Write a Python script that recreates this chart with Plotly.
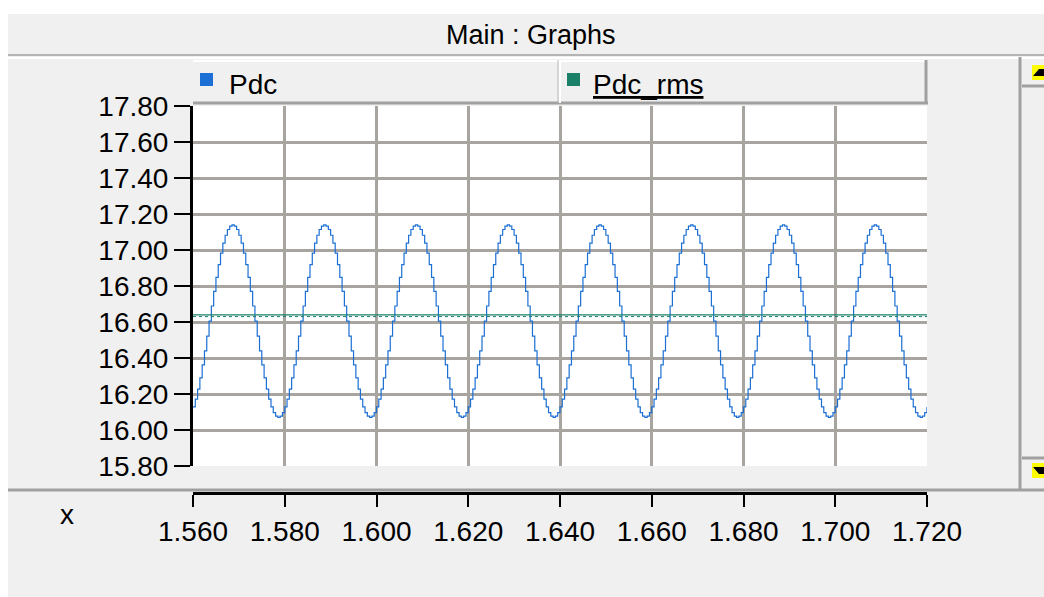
import plotly.graph_objects as go

W, H = 1044, 597

# ---- data ----
T_START = 1.560
T_STEP = 0.0005
# one 20 ms cycle of the Pdc staircase (40 samples), repeated for the 8 identical cycles shown
PDC_CYCLE = [16.128, 16.172, 16.227, 16.290, 16.362, 16.440, 16.521, 16.605, 16.689, 16.770,
             16.848, 16.919, 16.983, 17.038, 17.082, 17.114, 17.133, 17.140, 17.133, 17.114,
             17.082, 17.038, 16.983, 16.919, 16.848, 16.770, 16.689, 16.605, 16.521, 16.440,
             16.362, 16.290, 16.227, 16.172, 16.128, 16.096, 16.077, 16.070, 16.077, 16.096]
N_CYCLES = 8
RMS_X = [1.560, 1.720]
RMS_Y = [16.640, 16.640]
X_TICKS = [1.56, 1.58, 1.60, 1.62, 1.64, 1.66, 1.68, 1.70, 1.72]
X_TICK_LABELS = ["1.560", "1.580", "1.600", "1.620", "1.640", "1.660", "1.680", "1.700", "1.720"]
Y_TICKS = [15.8, 16.0, 16.2, 16.4, 16.6, 16.8, 17.0, 17.2, 17.4, 17.6, 17.8]
Y_TICK_LABELS = ["15.80", "16.00", "16.20", "16.40", "16.60", "16.80", "17.00", "17.20", "17.40", "17.60", "17.80"]
SERIES_NAMES = ["Pdc", "Pdc_rms"]
SERIES_COLORS = ["#1c6fd4", "#1a8068"]

pdc_y = PDC_CYCLE * N_CYCLES + [PDC_CYCLE[0]]
pdc_x = [round(T_START + i * T_STEP, 5) for i in range(len(pdc_y))]

FONT = "Liberation Sans, Arial, sans-serif"
FS = 28


def px(x):
    return x / W


def py(y):
    return 1 - y / H


PL, PR, PT, PB = 193, 927, 106, 466
AX_Y = 493

fig = go.Figure()
fig.add_trace(go.Scatter(x=pdc_x, y=pdc_y, mode="lines", line=dict(color=SERIES_COLORS[0], width=1.2, shape="hv"),
                         showlegend=False, hoverinfo="skip"))
fig.add_trace(go.Scatter(x=RMS_X, y=RMS_Y, mode="lines", line=dict(color=SERIES_COLORS[1], width=1.2),
                         showlegend=False, hoverinfo="skip"))
fig.add_trace(go.Scatter(x=RMS_X, y=[v - 0.01 for v in RMS_Y], mode="lines",
                         line=dict(color=SERIES_COLORS[1], width=1, dash="dot"),
                         showlegend=False, hoverinfo="skip"))
fig.add_trace(go.Scatter(x=RMS_X, y=RMS_Y, xaxis="x2", mode="lines", line=dict(width=0),
                         opacity=0, showlegend=False, hoverinfo="skip"))

grid = "#a8a4a0"
fig.update_layout(
    width=W, height=H, margin=dict(l=0, r=0, t=0, b=0, pad=0, autoexpand=False),
    paper_bgcolor="#f0f0f0", plot_bgcolor="white",
    font=dict(family=FONT, size=FS, color="black"),
    xaxis=dict(domain=[px(PL), px(PR)], range=[1.56, 1.72], tickvals=X_TICKS, showticklabels=False,
               showgrid=True, gridcolor=grid, gridwidth=3, zeroline=False, showline=False, ticks=""),
    yaxis=dict(domain=[py(PB), py(PT)], range=[15.8, 17.8], tickvals=Y_TICKS, ticktext=Y_TICK_LABELS,
               showgrid=True, gridcolor=grid, gridwidth=3, zeroline=False,
               showline=True, linecolor="black", linewidth=3, ticks="outside", ticklen=16,
               tickwidth=2, tickcolor="black", tickfont=dict(size=FS, family=FONT)),
    xaxis2=dict(domain=[px(PL), px(PR)], range=[1.56, 1.72], overlaying="x", anchor="free",
                position=py(AX_Y), side="bottom", tickvals=X_TICKS, ticktext=X_TICK_LABELS,
                showgrid=False, zeroline=False, showline=True, linecolor="black", linewidth=3,
                ticks="outside", ticklen=12, tickwidth=2, tickcolor="black",
                tickfont=dict(size=FS, family=FONT)),
)

shapes = []


def rect(x0, y0, x1, y1, fill, layer="below"):
    shapes.append(dict(type="rect", xref="paper", yref="paper", x0=px(x0), x1=px(x1), y0=py(y1), y1=py(y0),
                       fillcolor=fill, line=dict(width=0), layer=layer))


def line(x0, y0, x1, y1, color, w, layer="above"):
    shapes.append(dict(type="line", xref="paper", yref="paper", x0=px(x0), x1=px(x1), y0=py(y0), y1=py(y1),
                       line=dict(color=color, width=w), layer=layer))


# white window frame (top strip and left strip)
rect(0, 0, W, 14, "white")
rect(0, 0, 8, H, "white")
# title separator
line(8, 55, W, 55, "#b4b4b4", 2)
line(8, 58, W, 58, "white", 2)
# legend bar
rect(PL, 60, PR, 104, "#f0f0f0", layer="above")
line(PL, 61, PR, 61, "white", 2)
line(PL, 103, PR + 1, 103, "#a0a0a0", 3)
line(PR - 1, 60, PR - 1, 104, "#a0a0a0", 3)
line(558, 60, 558, 103, "#b8b8b8", 1)
line(560, 60, 560, 103, "white", 2)
# scrollbar at right
line(1020, 57, 1020, 490, "#a0a0a0", 3)
line(1022, 86, W, 86, "#a0a0a0", 3)
line(1022, 458, W, 458, "#a0a0a0", 3)
rect(1032, 65, W, 80, "#ffff00", layer="above")
rect(1032, 463, W, 478, "#ffff00", layer="above")
shapes.append(dict(type="path", xref="paper", yref="paper",
                   path=f"M {px(1033)},{py(76)} L {px(1039)},{py(69)} L {px(1044)},{py(69)} L {px(1044)},{py(76)} Z",
                   fillcolor="black", line=dict(width=0)))
shapes.append(dict(type="path", xref="paper", yref="paper",
                   path=f"M {px(1033)},{py(467)} L {px(1044)},{py(467)} L {px(1044)},{py(474)} L {px(1039)},{py(474)} Z",
                   fillcolor="black", line=dict(width=0)))
# bottom separator
line(8, 490, W, 490, "#a0a0a0", 3)
# legend colour squares
rect(200, 73, 213, 86, SERIES_COLORS[0], layer="above")
rect(567, 73, 580, 86, SERIES_COLORS[1], layer="above")
fig.update_layout(shapes=shapes)

ann = [
    dict(text="Main : Graphs", x=px(531), y=py(35), size=27),
    dict(text=SERIES_NAMES[0], x=px(253), y=py(85), size=FS),
    dict(text="<u>" + SERIES_NAMES[1] + "</u>", x=px(648), y=py(85), size=FS),
    dict(text="x", x=px(67), y=py(514), size=FS),
]
fig.update_layout(annotations=[dict(text=a["text"], x=a["x"], y=a["y"], xref="paper", yref="paper",
                                    showarrow=False, xanchor="center", yanchor="middle",
                                    font=dict(family=FONT, size=a["size"], color="black")) for a in ann])

fig.write_html("out.html", default_width=f"{W}px", default_height=f"{H}px",
               config={"displayModeBar": False},
               post_script="document.body.style.margin='0px';document.body.style.overflow='hidden';")
